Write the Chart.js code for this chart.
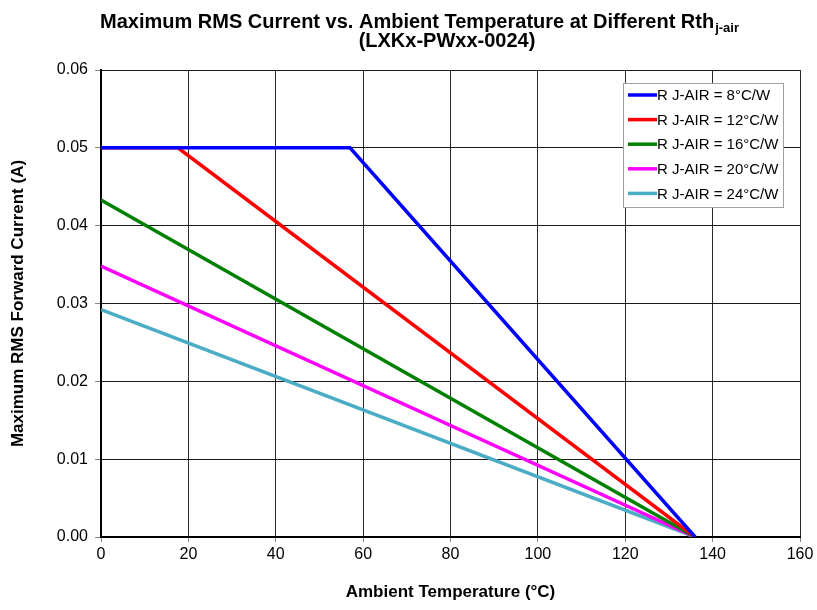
<!DOCTYPE html>
<html>
<head>
<meta charset="utf-8">
<script src="https://cdn.jsdelivr.net/npm/chart.js@4.4.1/dist/chart.umd.min.js"></script>
<style>
    html, body { margin: 0; padding: 0; background: #fff; }
    #wrap { width: 817px; height: 610px; }
</style>
</head>
<body>
<div id="wrap"><canvas id="chart" width="817" height="610"></canvas></div>
<script>
/* global Chart */

// Series data
const seriesLabels = [
    'R J-AIR = 8°C/W',
    'R J-AIR = 12°C/W',
    'R J-AIR = 16°C/W',
    'R J-AIR = 20°C/W',
    'R J-AIR = 24°C/W'
];
const seriesColors = ['#0000ff', '#ff0000', '#008000', '#ff00ff', '#4bacc6'];
const seriesTemps = [
    [0, 57, 136],
    [0, 17.6, 136],
    [0, 136],
    [0, 136],
    [0, 136]
];
const seriesCurrents = [
    [0.05, 0.05, 0],
    [0.05, 0.05, 0],
    [0.0433, 0],
    [0.0348, 0],
    [0.0292, 0]
];
const xTicks = [0, 20, 40, 60, 80, 100, 120, 140, 160];
const yTicks = [0, 0.01, 0.02, 0.03, 0.04, 0.05, 0.06];

const titleMain = 'Maximum RMS Current vs. Ambient Temperature at Different Rth';
const titleSub = 'j-air';
const titleLine2 = '(LXKx-PWxx-0024)';
const xTitle = 'Ambient Temperature (°C)';
const yTitle = 'Maximum RMS Forward Current (A)';

const fontFamily = '"Liberation Sans", Arial, sans-serif';

Chart.defaults.font.family = fontFamily;
Chart.defaults.color = '#000';

const datasets = seriesLabels.map((label, i) => ({
    label: label,
    data: seriesTemps[i].map((t, j) => ({ x: t, y: seriesCurrents[i][j] })),
    borderColor: seriesColors[i],
    backgroundColor: seriesColors[i],
    borderWidth: 3.5,
    pointRadius: 0,
    tension: 0,
    fill: false
}));

// Draw the two-line title with the subscript
const titlePlugin = {
    id: 'titlePlugin',
    afterDraw: (chart) => {
        const ctx = chart.ctx;
        ctx.save();
        ctx.fillStyle = '#000';
        ctx.textBaseline = 'alphabetic';
        ctx.font = 'bold 20px ' + fontFamily;
        const wMain = ctx.measureText(titleMain).width;
        ctx.font = 'bold 13px ' + fontFamily;
        const wSub = ctx.measureText(titleSub).width;
        const x0 = 419 - (wMain + wSub) / 2;
        ctx.textAlign = 'left';
        ctx.font = 'bold 20px ' + fontFamily;
        ctx.fillText(titleMain, x0, 28);
        ctx.font = 'bold 13px ' + fontFamily;
        ctx.fillText(titleSub, x0 + wMain + 1, 32);
        ctx.font = 'bold 20px ' + fontFamily;
        ctx.textAlign = 'center';
        ctx.fillText(titleLine2, 447, 47);
        ctx.restore();
    }
};

// Legend box inside the plot area, upper right
const legendPlugin = {
    id: 'legendPlugin',
    afterDraw: (chart) => {
        const ctx = chart.ctx;
        const left = 623;
        const top = 83;
        const width = 160;
        const rowH = 24.6;
        ctx.save();
        ctx.fillStyle = '#fff';
        ctx.fillRect(left, top, width, 124);
        ctx.strokeStyle = '#a0a0a0';
        ctx.lineWidth = 1;
        ctx.strokeRect(left + 0.5, top + 0.5, width, 124);
        ctx.font = '15px ' + fontFamily;
        ctx.textBaseline = 'middle';
        ctx.textAlign = 'left';
        chart.data.datasets.forEach((ds, i) => {
            const y = top + 12 + i * rowH;
            ctx.strokeStyle = ds.borderColor;
            ctx.lineWidth = 3.5;
            ctx.beginPath();
            ctx.moveTo(left + 5, y);
            ctx.lineTo(left + 34, y);
            ctx.stroke();
            ctx.fillStyle = '#000';
            ctx.fillText(ds.label, left + 34, y + 1);
        });
        ctx.restore();
    }
};

const drawChart = () => {
    'use strict';

    const element = document.getElementById('chart');

    const chart = new Chart(element, { // eslint-disable-line no-unused-vars
        type: 'line',
        data: { datasets: datasets },
        options: {
            responsive: false,
            animation: false,
            layout: { padding: { top: 70, right: 17, left: 0, bottom: 0 } },
            plugins: {
                legend: { display: false },
                title: { display: false },
                tooltip: { enabled: false }
            },
            scales: {
                x: {
                    type: 'linear',
                    min: 0,
                    max: 160,
                    afterBuildTicks: (scale) => {
                        scale.ticks = xTicks.map(v => ({ value: v }));
                    },
                    afterFit: (scale) => {
                        scale.height = 73;
                    },
                    grid: {
                        color: '#2a2a2a',
                        lineWidth: 1,
                        tickLength: 5,
                        tickColor: '#888'
                    },
                    border: { color: '#000', width: 2 },
                    ticks: {
                        font: { size: 16 },
                        color: '#000',
                        padding: 3,
                        maxRotation: 0
                    },
                    title: {
                        display: true,
                        text: xTitle,
                        font: { size: 17, weight: 'bold' },
                        padding: { top: 0, bottom: 7 }
                    }
                },
                y: {
                    type: 'linear',
                    min: 0,
                    max: 0.06,
                    afterBuildTicks: (scale) => {
                        scale.ticks = yTicks.map(v => ({ value: v }));
                    },
                    afterFit: (scale) => {
                        scale.width = 101;
                    },
                    grid: {
                        color: '#1a1a1a',
                        lineWidth: 1,
                        tickLength: 6,
                        tickColor: '#888'
                    },
                    border: { color: '#000', width: 2 },
                    ticks: {
                        font: { size: 16 },
                        color: '#000',
                        padding: 7,
                        callback: (value) => value.toFixed(2)
                    },
                    title: {
                        display: true,
                        text: yTitle,
                        font: { size: 17, weight: 'bold' },
                        padding: { top: 8, bottom: 0 }
                    }
                }
            }
        },
        plugins: [titlePlugin, legendPlugin]
    });
};

drawChart();
</script>
</body>
</html>
